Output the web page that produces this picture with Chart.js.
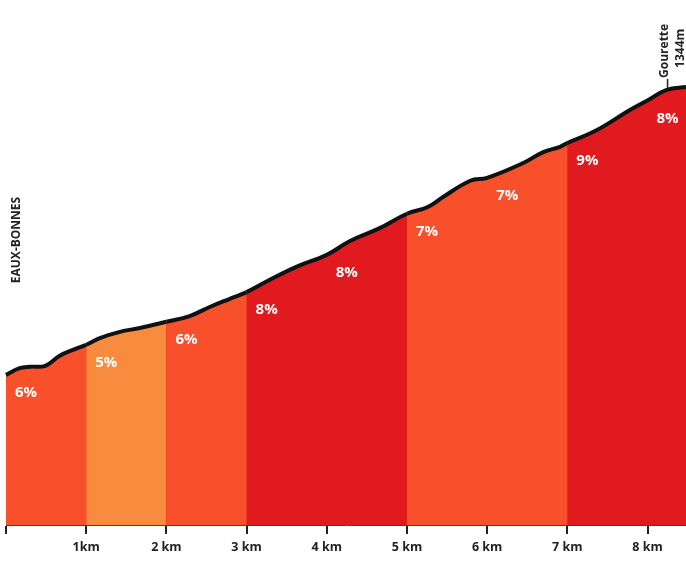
<!DOCTYPE html>
<html>
<head>
<meta charset="utf-8">
<script src="https://cdn.jsdelivr.net/npm/chart.js@4/dist/chart.umd.min.js"></script>
<style>
  body { margin: 0; background: #fff; }
  #wrap { width: 686px; height: 561px; }
</style>
</head>
<body>
<div id="wrap"><canvas id="profileChart" width="686" height="561"></canvas></div>
<script>
// profile: distance (km) and elevation (m)
const distances = [0, 0.17, 0.3, 0.49, 0.67, 0.86, 1, 1.17, 1.42, 1.67, 2, 2.29, 2.54, 2.79, 3, 3.29, 3.62, 4, 4.29, 4.66, 5, 5.26, 5.45, 5.79, 6, 6.45, 6.7, 6.91, 7, 7.37, 7.78, 8, 8.24, 8.48];
const elevations = [744, 758, 761, 763, 784, 798, 807, 821, 834, 842, 855, 867, 886, 903, 917, 943, 970, 995, 1024, 1051, 1081, 1095, 1116, 1150, 1156, 1187, 1210, 1221, 1229, 1256, 1298, 1318, 1340, 1346];
const gradeLabels = ["6%", "5%", "6%", "8%", "8%", "7%", "7%", "9%", "8%"];
const kmColors = ["#F9502C", "#F98B3E", "#F9502C", "#E01A1E", "#E01A1E", "#F9502C", "#F9502C", "#E01A1E", "#E01A1E"];
const tickLabels = ["", "1km", "2 km", "3 km", "4 km", "5 km", "6 km", "7 km", "8 km"];

const points = distances.map((d, i) => ({ x: d, y: elevations[i] }));

const labelsPlugin = {
    id: "profileLabels",
    afterDatasetsDraw(chart) {
        const ctx = chart.ctx;
        const xs = chart.scales.x;
        const ys = chart.scales.y;
        ctx.save();
        ctx.fillStyle = "#fff";
        ctx.font = "bold 15px 'Open Sans'";
        ctx.textAlign = "center";
        ctx.textBaseline = "middle";
        gradeLabels.forEach((txt, k) => {
            const idx = distances.indexOf(k);
            const px = xs.getPixelForValue(k + 0.25);
            const py = ys.getPixelForValue(elevations[idx]) + 18;
            ctx.fillText(txt, px, py);
        });

        // start name
        ctx.fillStyle = "#222";
        ctx.font = "bold 12px 'Open Sans'";
        ctx.save();
        ctx.translate(chart.chartArea.left + 11, 240);
        ctx.rotate(-Math.PI / 2);
        ctx.fillText("EAUX-BONNES", 0, 0);
        ctx.restore();

        // summit marker
        const sx = xs.getPixelForValue(8.25);
        const sy = ys.getPixelForValue(1340);
        ctx.strokeStyle = "#222";
        ctx.lineWidth = 1.5;
        ctx.beginPath();
        ctx.moveTo(sx, sy - 2);
        ctx.lineTo(sx, sy - 11);
        ctx.stroke();
        ctx.font = "bold 12px 'Open Sans'";
        ctx.textAlign = "left";
        ctx.save();
        ctx.translate(sx - 3, sy - 12);
        ctx.rotate(-Math.PI / 2);
        ctx.fillText("Gourette", 0, 0);
        ctx.restore();
        ctx.save();
        ctx.translate(sx + 13, sy - 22);
        ctx.rotate(-Math.PI / 2);
        ctx.fillText("1344m", 0, 0);
        ctx.restore();
        ctx.restore();
    }
};

new Chart(document.getElementById("profileChart"), {
    type: "line",
    data: {
        datasets: [{
            data: points,
            borderColor: "#111",
            borderWidth: 4,
            pointRadius: 0,
            tension: 0.4,
            fill: "origin",
            backgroundColor: kmColors[0],
            segment: {
                backgroundColor: c => kmColors[Math.min(8, Math.floor(c.p0.parsed.x + 1e-6))]
            }
        }, {
            // plain underlay so the seams between coloured stretches are not white
            data: points,
            borderWidth: 0,
            pointRadius: 0,
            tension: 0.4,
            fill: "origin",
            backgroundColor: "#EE3A26"
        }]
    },
    options: {
        responsive: false,
        animation: false,
        clip: false,
        layout: { padding: { left: 6, right: 0, top: 0, bottom: 0 } },
        plugins: { legend: { display: false }, tooltip: { enabled: false } },
        scales: {
            x: {
                type: "linear",
                min: 0,
                max: 8.48,
                afterFit: s => { s.height = 36; },
                afterBuildTicks: s => { s.ticks = tickLabels.map((t, i) => ({ value: i })); },
                border: { display: true, color: "#444", width: 1 },
                grid: { drawOnChartArea: false, drawTicks: true, tickLength: 9, color: "#222", lineWidth: 2 },
                ticks: {
                    autoSkip: false,
                    maxRotation: 0,
                    padding: 6,
                    color: "#222",
                    font: { family: "'Open Sans'", weight: "bold", size: 12.5 },
                    callback: v => tickLabels[Math.round(v)]
                }
            },
            y: {
                display: false,
                min: 430,
                max: 1528
            }
        }
    },
    plugins: [labelsPlugin]
});
</script>
</body>
</html>
